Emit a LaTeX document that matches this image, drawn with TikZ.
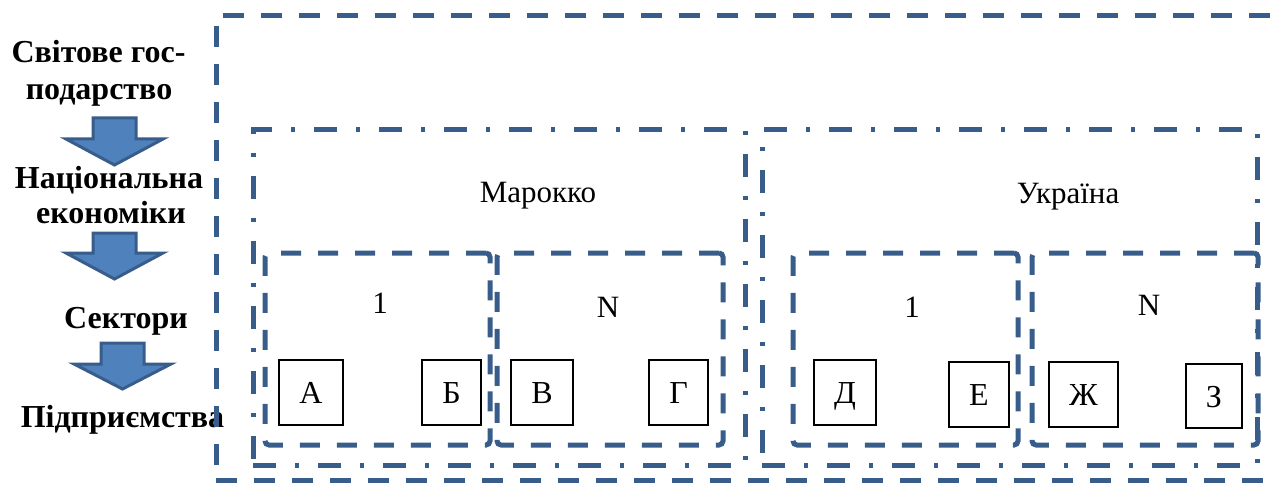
\documentclass[tikz,border=0pt]{standalone}
\usepackage{fontspec}
\setmainfont{Liberation Serif}
\usetikzlibrary{positioning}

\definecolor{frameblue}{RGB}{56,93,138}
\definecolor{arrowfill}{RGB}{79,129,189}
\definecolor{arrowline}{RGB}{56,93,138}

\tikzset{
  lvltext/.style={anchor=base, inner sep=0pt, font=\fontsize{32}{37}\selectfont\bfseries},
  caption/.style={anchor=base, inner sep=0pt, font=\fontsize{31}{36}\selectfont},
  worldbox/.style={draw=frameblue, line width=5pt, dash pattern=on 21pt off 17pt, inner sep=0pt},
  countrybox/.style={draw=frameblue, line width=5pt, dash pattern=on 23pt off 19pt on 4pt off 19pt, inner sep=0pt},
  sectorbox/.style={draw=frameblue, line width=5pt, dash pattern=on 20pt off 17pt, rounded corners=4pt, inner sep=0pt},
  firmbox/.style={draw=black, line width=1.2pt, inner sep=0pt, text height=22pt, text depth=0pt,
    font=\fontsize{32}{37}\selectfont},
  blockarrow/.style={fill=arrowfill, draw=arrowline, line width=3pt, line join=miter}
}

\begin{document}
\begin{tikzpicture}[x=1pt, y=-1pt]
\useasboundingbox (0,0) rectangle (1277,484);

% hierarchy levels on the left
\node[lvltext] (lvl1a) at (98.5,63)  {Світове гос-};
\node[lvltext] (lvl1b) at (99,100)   {подарство};
\node[lvltext] (lvl2a) at (109,188)  {Національна};
\node[lvltext] (lvl2b) at (111,223)  {економіки};
\node[lvltext] (lvl3)  at (126,328)  {Сектори};
\node[lvltext] (lvl4)  at (122.5,427) {Підприємства};

% block arrows between the levels
\draw[blockarrow] (93,118) -- (136,118) -- (136,139) -- (163,139) -- (114.5,165)
  -- (66,139) -- (93,139) -- cycle;
\draw[blockarrow] (93,233) -- (136,233) -- (136,253) -- (163,253) -- (114.5,279)
  -- (66,253) -- (93,253) -- cycle;
\draw[blockarrow] (101,343) -- (144,343) -- (144,364) -- (171,364) -- (122.5,389)
  -- (74,364) -- (101,364) -- cycle;

% world economy frame
\node[worldbox, minimum width=1074pt, minimum height=464pt] (world) at (753,248) {};

% national economies
\node[countrybox, minimum width=492pt, minimum height=335pt] (morocco) at (499,297.5) {};
\node[countrybox, minimum width=495pt, minimum height=335pt] (ukraine) at (1009.5,297.5) {};
\node[caption] (moroccolbl) at (538,202) {Марокко};
\node[caption] (ukrainelbl) at (1068,203) {Україна};

% sectors
\node[sectorbox, minimum width=225pt, minimum height=192pt] (m1) at (377.5,349) {};
\node[sectorbox, minimum width=226pt, minimum height=192pt] (mn) at (610,349) {};
\node[sectorbox, minimum width=225pt, minimum height=192pt] (u1) at (905.5,349) {};
\node[sectorbox, minimum width=226pt, minimum height=192pt] (un) at (1145,349) {};
\node[caption] (m1lbl) at (380,313) {1};
\node[caption] (mnlbl) at (608,317) {N};
\node[caption] (u1lbl) at (912,317) {1};
\node[caption] (unlbl) at (1149,315) {N};

% enterprises
\node[firmbox, minimum width=64pt, minimum height=65pt] (fa) at (311,392.5) {А};
\node[firmbox, minimum width=59pt, minimum height=65pt] (fb) at (451.5,392.5) {Б};
\node[firmbox, minimum width=62pt, minimum height=65pt] (fv) at (542,392.5) {В};
\node[firmbox, minimum width=59pt, minimum height=65pt] (fg) at (678.5,392.5) {Г};
\node[firmbox, minimum width=62pt, minimum height=65pt] (fd) at (845,392.5) {Д};
\node[firmbox, minimum width=60pt, minimum height=65pt] (fe) at (979,394.5) {Е};
\node[firmbox, minimum width=69pt, minimum height=65pt] (fzh) at (1083.5,394.5) {Ж};
\node[firmbox, minimum width=56pt, minimum height=64pt] (fz) at (1214,396) {З};
\end{tikzpicture}
\end{document}
